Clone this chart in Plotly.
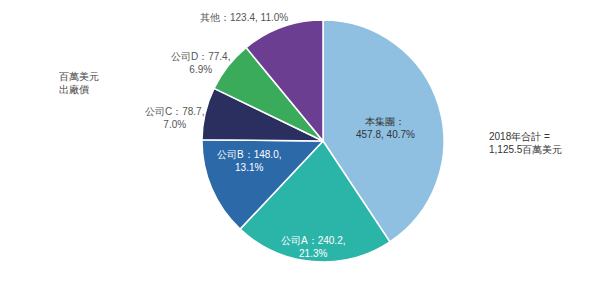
import math
import plotly.graph_objects as go

labels = ["本集團", "公司A", "公司B", "公司C", "公司D", "其他"]
values = [457.8, 240.2, 148.0, 78.7, 77.4, 123.4]
pcts = ["40.7%", "21.3%", "13.1%", "7.0%", "6.9%", "11.0%"]
colors = ["#8fc0e2", "#2bb5a9", "#2b69a8", "#2a2f5f", "#3aab5b", "#6c3e92"]
total_text = "2018年合計 =<br>1,125.5百萬美元"
unit_text = "百萬美元<br>出廠價"

# label styling (radius as fraction of pie radius, angular offset in degrees)
label_r = [0.531, 0.876, 0.635, 1.242, 1.20, 1.215]
label_dang = [5.1, 0.6, 7.6, -4.4, -5.7, -12.8]
font_colors = ["#333333", "#ffffff", "#ffffff", "#555555", "#555555", "#555555"]
line_breaks = ["：<br>{v}, {p}", "：{v},<br>{p}", "：{v},<br>{p}", "：{v},<br>{p}", "：{v},<br>{p}", "：{v}, {p}"]

W, H = 598, 297
T, B = 20, 35
PH = H - T - B
CX, CY, R = 323, 141, 121
FONT = "Liberation Sans, Arial, sans-serif"

fig = go.Figure(go.Pie(
    labels=labels, values=values, textinfo="none",
    sort=False, direction="clockwise", rotation=0,
    marker=dict(colors=colors, line=dict(color="white", width=1.5)),
    domain=dict(x=[(CX - R) / W, (CX + R) / W], y=[0, 1]),
    hoverinfo="skip", showlegend=False,
))

total = sum(values)
annotations = []
cum = 0.0
for i, v in enumerate(values):
    mid = (cum + v / 2) / total * 360.0
    cum += v
    ang = math.radians(mid + label_dang[i])
    px = CX + label_r[i] * R * math.sin(ang)
    py = CY - label_r[i] * R * math.cos(ang)
    txt = labels[i] + line_breaks[i].format(v=f"{v:.1f}", p=pcts[i])
    annotations.append(dict(
        text=txt, x=px / W, y=1 - (py - T) / PH, xref="paper", yref="paper",
        xanchor="center", yanchor="middle", align="center", showarrow=False,
        font=dict(family=FONT, size=10, color=font_colors[i]),
    ))

annotations.append(dict(text=unit_text, x=57 / W, y=1 - (82.5 - T) / PH, xref="paper", yref="paper",
                        xanchor="left", yanchor="middle", align="left", showarrow=False,
                        font=dict(family=FONT, size=10, color="#444444")))
annotations.append(dict(text=total_text, x=487 / W, y=1 - (142.5 - T) / PH, xref="paper", yref="paper",
                        xanchor="left", yanchor="middle", align="left", showarrow=False,
                        font=dict(family=FONT, size=10, color="#333333")))

fig.update_layout(
    width=W, height=H, margin=dict(l=0, r=0, t=T, b=B),
    paper_bgcolor="white", plot_bgcolor="white",
    annotations=annotations,
)
fig.write_html("out.html")
